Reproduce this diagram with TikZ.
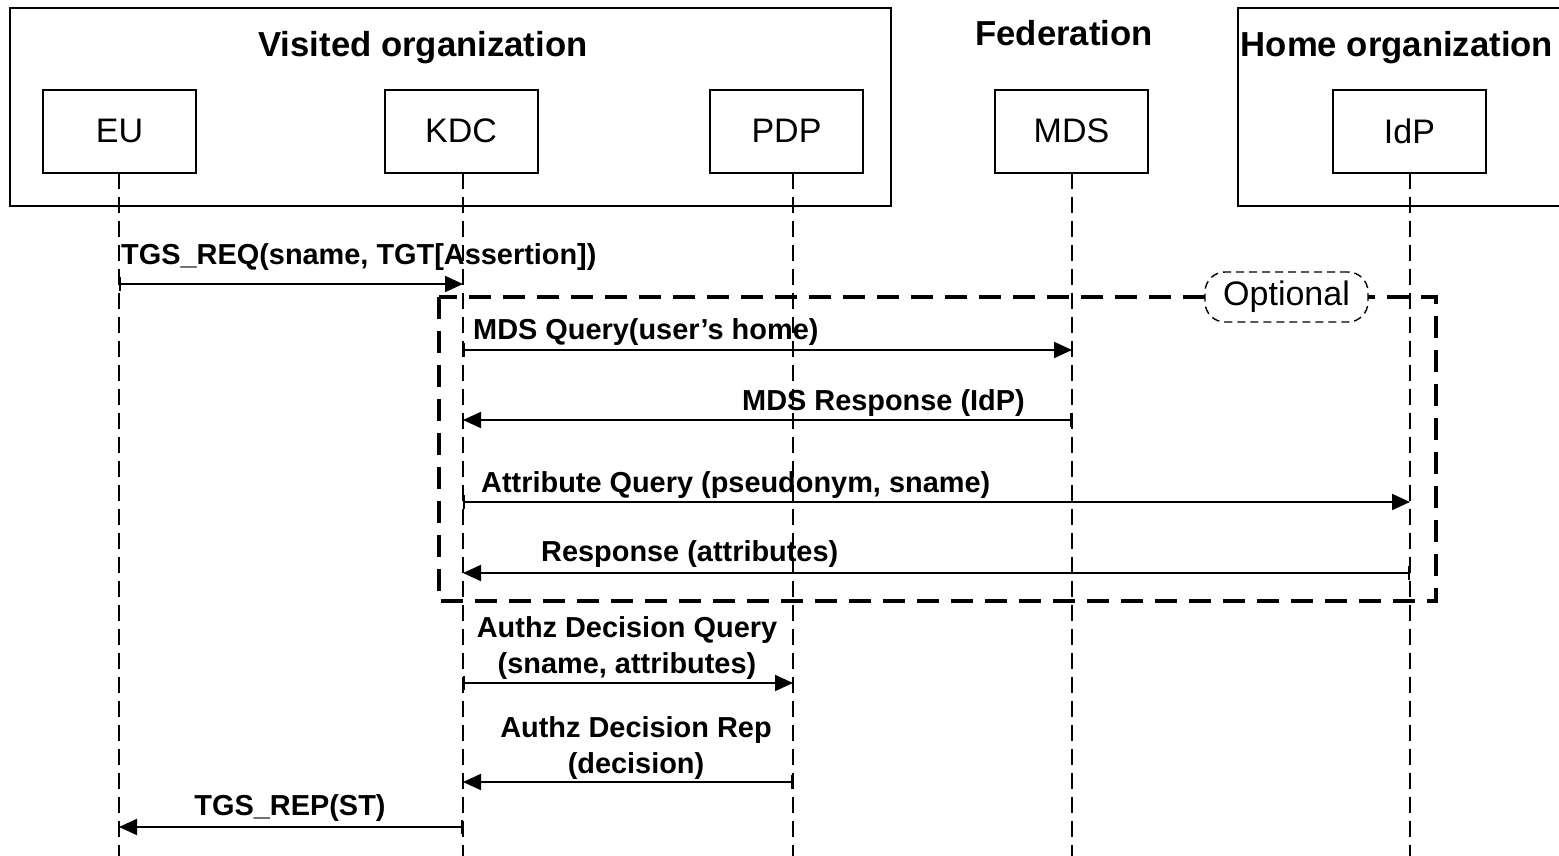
\documentclass[tikz,border=0pt]{standalone}
\usepackage{fontspec}
\setmainfont{Liberation Sans}
\usetikzlibrary{arrows.meta}
\begin{document}
\begin{tikzpicture}[x=1pt,y=-1pt,
  group/.style={draw,line width=2pt},
  title/.style={font=\fontsize{34.7}{40}\selectfont\bfseries,inner sep=0},
  actor/.style={draw,line width=2pt,minimum width=153pt,minimum height=83pt,
    inner sep=0,font=\fontsize{34}{40}\selectfont},
  life/.style={line width=1.5pt,dash pattern=on 16pt off 8pt},
  msg/.style={line width=2pt,
    {Bar[width=14pt,line width=1.6pt]}-{Triangle[length=18pt,width=16pt]}},
  lbl/.style={font=\fontsize{28.9}{36}\selectfont\bfseries,inner sep=0},
  frame/.style={line width=3.2pt,dash pattern=on 22pt off 12pt},
  tag/.style={draw,fill=white,line width=1.4pt,dash pattern=on 8pt off 5pt,
    rounded corners=20pt,minimum width=163pt,minimum height=50pt,inner sep=0,
    font=\fontsize{34}{40}\selectfont},
]
\clip (0,0) rectangle (1559,855);

% organisations
\draw[group] (10,8) rectangle (891,206);
\draw[group] (1238,8) rectangle (1580,206);
\node[title] (visited) at (423,48) {Visited organization};
\node[title] (fed) at (1064,33) {Federation};
\node[title] (home) at (1397,48) {Home organization};

% participants
\node[actor] (eu)  at (119.5,131) {EU};
\node[actor] (kdc) at (461,131)   {KDC};
\node[actor] (pdp) at (786.5,131) {PDP};
\node[actor] (mds) at (1071.5,131){MDS};
\node[actor] (idp) at (1409.5,131){IdP};

% lifelines
\coordinate (eu-l)  at (119,172.5);
\coordinate (kdc-l) at (463,172.5);
\coordinate (pdp-l) at (793,172.5);
\coordinate (mds-l) at (1072,172.5);
\coordinate (idp-l) at (1410,172.5);
\foreach \p in {eu,kdc,pdp,mds,idp}
  \draw[life] (\p-l) -- (\p-l |- 0,860);

% message rows
\coordinate (r1) at (0,284);
\coordinate (r2) at (0,350);
\coordinate (r3) at (0,420);
\coordinate (r4) at (0,502);
\coordinate (r5) at (0,573);
\coordinate (r6) at (0,683);
\coordinate (r7) at (0,782);
\coordinate (r8) at (0,827);

% optional fragment
\draw[frame] (439,297) rectangle (1436,601);
\node[tag] (opt) at (1286.5,297) {Optional};

% messages
\draw[msg] (eu-l |- r1) -- (kdc-l |- r1);
\node[lbl,anchor=base west] (t1) at (121,264) {TGS\_REQ(sname, TGT[Assertion])};

\draw[msg] (kdc-l |- r2) -- (mds-l |- r2);
\node[lbl,anchor=base west] (t2) at (473,339) {MDS Query(user’s home)};

\draw[msg] (mds-l |- r3) -- (kdc-l |- r3);
\node[lbl,anchor=base east] (t3) at (1025,410) {MDS Response (IdP)};

\draw[msg] (kdc-l |- r4) -- (idp-l |- r4);
\node[lbl,anchor=base west] (t4) at (481,492) {Attribute Query (pseudonym, sname)};

\draw[msg] (idp-l |- r5) -- (kdc-l |- r5);
\node[lbl,anchor=base west] (t5) at (541,561) {Response (attributes)};

\draw[msg] (kdc-l |- r6) -- (pdp-l |- r6);
\node[lbl,align=center,anchor=north] (t6) at (627,616.5) {Authz Decision Query\\(sname, attributes)};

\draw[msg] (pdp-l |- r7) -- (kdc-l |- r7);
\node[lbl,align=center,anchor=north] (t7) at (636,716.5) {Authz Decision Rep\\(decision)};

\draw[msg] (kdc-l |- r8) -- (eu-l |- r8);
\node[lbl,anchor=base] (t8) at (290,815) {TGS\_REP(ST)};
\end{tikzpicture}
\end{document}
